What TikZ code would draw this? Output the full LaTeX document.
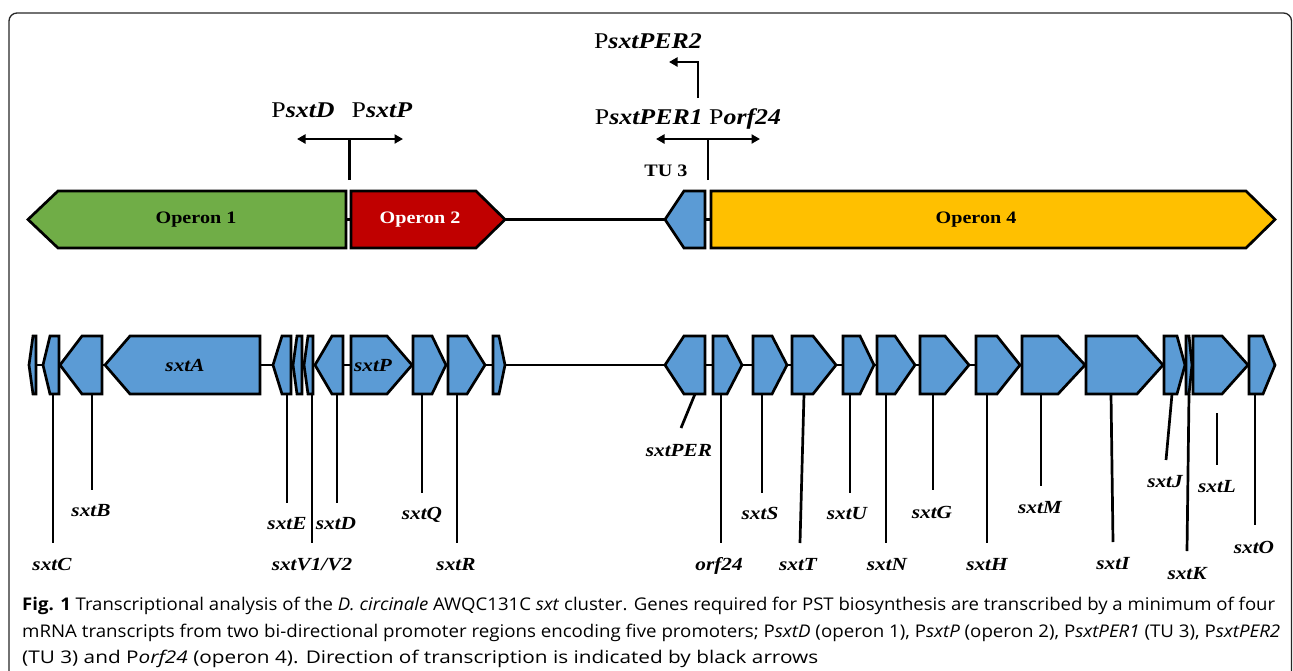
\documentclass[tikz,border=0pt]{standalone}
\usepackage{fontspec}
\setmainfont{Liberation Serif}
\newfontfamily\dfont[FakeStretch=1.15]{Liberation Serif}
\newfontfamily\capfont{Open Sans}
\usetikzlibrary{arrows.meta}
\definecolor{opgreen}{HTML}{70AD47}
\definecolor{opred}{HTML}{C00000}
\definecolor{opgold}{HTML}{FFC000}
\definecolor{geneblue}{HTML}{5B9BD5}
\def\gTop{336}\def\gMid{365}\def\gBot{394}
\newcommand{\geneR}[3]{\draw[gene] (#1,\gTop) -- (#2,\gTop) -- (#3,\gMid) -- (#2,\gBot) -- (#1,\gBot) -- cycle;}
\newcommand{\geneL}[3]{\draw[gene] (#3,\gTop) -- (#2,\gTop) -- (#1,\gMid) -- (#2,\gBot) -- (#3,\gBot) -- cycle;}
\newcommand{\capone}{\textbf{Fig. 1} Transcriptional analysis of the \textit{D. circinale} AWQC131C \textit{sxt} cluster. Genes required for PST biosynthesis are transcribed by a minimum of four}
\newcommand{\captwo}{mRNA transcripts from two bi-directional promoter regions encoding five promoters; P\textit{sxtD} (operon 1), P\textit{sxtP} (operon 2), P\textit{sxtPER1} (TU 3), P\textit{sxtPER2}}
\newcommand{\capthree}{(TU 3) and P\textit{orf24} (operon 4). Direction of transcription is indicated by black arrows}
\newcommand{\capsize}{\fontsize{17.5}{20}\selectfont}
\newlength\capw
\tikzset{
  gene/.style={draw=black, fill=geneblue, line width=2.7pt, line join=miter, miter limit=3},
  operon/.style={draw=black, line width=2.7pt, line join=miter, miter limit=3},
  backbone/.style={line width=2.7pt},
  leader/.style={line width=2.7pt},
  promline/.style={line width=2.7pt},
  promarrow/.style={line width=2.7pt, -{Triangle[length=8.5pt,width=9pt]}},
  prom2arrow/.style={line width=2.7pt, {Triangle[length=8.5pt,width=9pt]}-{Triangle[length=8.5pt,width=9pt]}},
  lab/.style={font=\dfont\fontsize{18.5}{20}\selectfont\bfseries\itshape, inner sep=0pt, text height=12.5pt, text depth=0pt},
  toplab/.style={font=\dfont\fontsize{22.5}{24}\selectfont, inner sep=0pt, anchor=base},
  oplab/.style={font=\dfont\fontsize{17.5}{19}\selectfont\bfseries, inner sep=0pt},
  captext/.style={font=\capfont\capsize, inner sep=0pt, anchor=base west},
  outerframe/.style={line width=1.3pt, draw=black!85, rounded corners=8pt}
}
\begin{document}
\settowidth\capw{\capfont\capsize \capthree}%
\pgfmathsetmacro\capsx{796/\capw}%
\begin{tikzpicture}[x=1pt,y=-1pt]
\useasboundingbox (0,0) rectangle (1293,670);
\draw[outerframe] (9,700) -- (9,13) -- (1291.5,13) -- (1291.5,700);

% ---------- promoters ----------
\node[toplab] (pper2) at (648,48) {P\textbf{\textit{sxtPER2}}};
\node[toplab] (pper1) at (688,124) {P\textbf{\textit{sxtPER1}} P\textbf{\textit{orf24}}};
\node[toplab] (psxtd) at (303,117) {P\textbf{\textit{sxtD}}};
\node[toplab] (psxtp) at (382,117) {P\textbf{\textit{sxtP}}};
\node[oplab, anchor=base] (tu3) at (666,176) {TU 3};

\coordinate (pl) at (349.5,180);
\coordinate (plt) at (349.5,139);
\coordinate (pla) at (297,139);
\coordinate (plb) at (403,139);
\draw[promline] (pl) -- (plt);
\draw[prom2arrow] (pla) -- (plb);

\coordinate (pr) at (708,180);
\coordinate (prt) at (708,139);
\coordinate (pra) at (656,139);
\coordinate (prb) at (760,139);
\draw[promline] (pr) -- (prt);
\draw[prom2arrow] (pra) -- (prb);

\coordinate (p2a) at (698,98);
\coordinate (p2b) at (698,62);
\coordinate (p2c) at (669,62);
\draw[promarrow, line join=miter] (p2a) -- (p2b) -- (p2c);

% ---------- operons ----------
\draw[backbone] (28,219.5) -- (1275,219.5);
\draw[operon, fill=opgreen] (346,191) -- (58,191) -- (28,219.5) -- (58,248) -- (346,248) -- cycle;
\draw[operon, fill=opred] (351,191) -- (476,191) -- (505,219.5) -- (476,248) -- (351,248) -- cycle;
\draw[operon, fill=geneblue] (705,191) -- (684,191) -- (665,219.5) -- (684,248) -- (705,248) -- cycle;
\draw[operon, fill=opgold] (711,191) -- (1246,191) -- (1275,219.5) -- (1246,248) -- (711,248) -- cycle;
\node[oplab] (op1) at (196,219.5) {Operon 1};
\node[oplab, text=white] (op2) at (420,219.5) {Operon 2};
\node[oplab] (op4) at (976,219.5) {Operon 4};

% ---------- genes ----------
\draw[backbone] (29,\gMid) -- (1275,\gMid);
\geneL{29}{33}{36}
\geneL{43}{50}{59}
\geneL{60}{82}{102}
\geneL{105}{130}{260}
\geneL{273}{282}{291}
\geneL{293}{297}{302}
\geneL{304}{308}{313}
\geneL{315}{332}{343}
\geneR{351}{387}{412}
\geneR{413}{432}{446}
\geneR{448}{467}{485}
\geneR{493}{499}{505}
\geneL{665}{684}{705}
\geneR{713}{727}{742}
\geneR{753}{772}{787}
\geneR{792}{813}{836}
\geneR{843}{860}{874}
\geneR{877}{895}{915}
\geneR{920}{945}{969}
\geneR{976}{997}{1020}
\geneR{1022}{1058}{1085}
\geneR{1086}{1137}{1163}
\geneR{1164}{1177}{1185}
\geneR{1186}{1189}{1192}
\geneR{1193}{1222}{1248}
\geneR{1249}{1263}{1275}
\node[lab] (sxtA) at (185,365) {sxtA};
\node[lab] (sxtP) at (373,365) {sxtP};

% ---------- gene labels ----------
\node[lab] (lC) at (52,564) {sxtC};
\node[lab] (lB) at (91,510) {sxtB};
\node[lab] (lE) at (287,523) {sxtE};
\node[lab] (lV) at (312,564) {sxtV1/V2};
\node[lab] (lD) at (336,523) {sxtD};
\node[lab] (lQ) at (422,513) {sxtQ};
\node[lab] (lR) at (456,564) {sxtR};
\node[lab] (lPER) at (679,450) {sxtPER};
\node[lab] (lorf) at (719,564) {orf24};
\node[lab] (lS) at (760,513) {sxtS};
\node[lab] (lT) at (798,564) {sxtT};
\node[lab] (lU) at (847,513) {sxtU};
\node[lab] (lN) at (887,564) {sxtN};
\node[lab] (lG) at (932,512) {sxtG};
\node[lab] (lH) at (987,564) {sxtH};
\node[lab] (lM) at (1040,507) {sxtM};
\node[lab] (lI) at (1113,563) {sxtI};
\node[lab] (lJ) at (1165,481) {sxtJ};
\node[lab] (lK) at (1187,573) {sxtK};
\node[lab] (lL) at (1217,486) {sxtL};
\node[lab] (lO) at (1254,547) {sxtO};

% ---------- leaders ----------
\draw[leader] (53,\gBot) -- (53,543);
\draw[leader] (92,\gBot) -- (92,490);
\draw[leader] (287,\gBot) -- (287,503);
\draw[leader] (312,\gBot) -- (312,543);
\draw[leader] (337,\gBot) -- (337,503);
\draw[leader] (422,\gBot) -- (422,493);
\draw[leader] (457,\gBot) -- (457,543);
\draw[leader] (695,\gBot) -- (681,428);
\draw[leader] (721,\gBot) -- (721,543);
\draw[leader] (762,\gBot) -- (762,493);
\draw[leader] (804,\gBot) -- (800,543);
\draw[leader] (850,\gBot) -- (850,493);
\draw[leader] (886,\gBot) -- (886,543);
\draw[leader] (933,\gBot) -- (933,490);
\draw[leader] (987,\gBot) -- (987,543);
\draw[leader] (1041,\gBot) -- (1041,486);
\draw[leader] (1111,\gBot) -- (1113,542);
\draw[leader] (1172,\gBot) -- (1166,460);
\draw[leader] (1189,\gBot) -- (1187,551);
\draw[leader] (1217,413) -- (1217,465);
\draw[leader] (1255,\gBot) -- (1255,525);

% ---------- caption ----------
\node[captext] (cap1) at (22,610) {\resizebox{1253pt}{\height}{\capone}};
\node[captext] (cap2) at (22,637) {\resizebox{1258pt}{\height}{\captwo}};
\node[captext] (cap3) at (22,663) {\scalebox{\capsx}[1]{\capthree}};
\end{tikzpicture}
\end{document}
